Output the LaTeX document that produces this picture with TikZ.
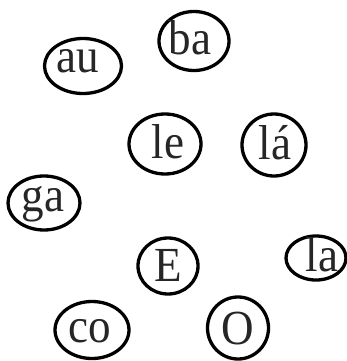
\documentclass[tikz,border=0pt]{standalone}
\usepackage{fontspec}
\setmainfont{Liberation Serif}[FakeStretch=0.92]
\usetikzlibrary{shapes.geometric}
\tikzset{
  oval/.style={ellipse, draw=black, line width=3.3pt, inner sep=0pt},
  lbl/.style={anchor=base, inner sep=0pt, font=\fontsize{49}{49}\selectfont, text=black!85}
}
\begin{document}
\begin{tikzpicture}[x=1pt,y=-1pt]
\useasboundingbox (0,0) rectangle (347,361);
% ovals
\node[oval, minimum width=77pt, minimum height=55pt] (au) at (83,66) {};
\node[oval, minimum width=70pt, minimum height=59pt] (ba) at (194,41) {};
\node[oval, minimum width=72pt, minimum height=60pt] (le) at (165,144) {};
\node[oval, minimum width=64pt, minimum height=62pt] (laacute) at (274,145) {};
\node[oval, minimum width=72pt, minimum height=54pt] (ga) at (44,203) {};
\node[oval, minimum width=60pt, minimum height=56pt] (E) at (168,266) {};
\node[oval, minimum width=60pt, minimum height=44pt] (la) at (316,258) {};
\node[oval, minimum width=74pt, minimum height=57pt] (co) at (92,330) {};
\node[oval, minimum width=61pt, minimum height=62pt] (O) at (238,328) {};
% labels
\node[lbl] (au-t) at (78,72) {au};
\node[lbl] (ba-t) at (190,55) {ba};
\node[lbl] (le-t) at (168,158) {le};
\node[lbl] (laacute-t) at (275,159) {lá};
\node[lbl] (ga-t) at (43,211) {ga};
\node[lbl] (E-t) at (168,281) {E};
\node[lbl] (la-t) at (322,271) {la};
\node[lbl] (co-t) at (90,342) {co};
\node[lbl] (O-t) at (238,344) {O};
\end{tikzpicture}
\end{document}
